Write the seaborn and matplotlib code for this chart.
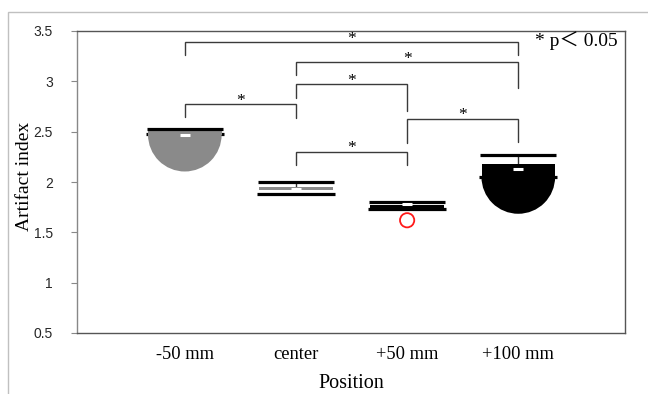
import numpy as np
import pandas as pd
import seaborn as sns
import matplotlib
matplotlib.use("Agg")
import matplotlib.pyplot as plt
from matplotlib.markers import MarkerStyle
from matplotlib.patches import Rectangle

# ---------------- data ----------------
categories = ["-50 mm", "center", "+50 mm", "+100 mm"]
upper = [2.53, 2.00, 1.80, 2.265]        # upper whisker line
box_top = [2.51, 1.95, 1.77, 2.18]       # box top
box_bottom = [2.47, 1.92, 1.73, 2.05]    # box bottom
median = [2.468, 1.935, 1.778, 2.125]    # white marker
lower = [2.475, 1.88, 1.73, 2.05]        # lower line
box_colors = ["#8a8a8a", "#8a8a8a", "#000000", "#000000"]
semi_cat = ["-50 mm", "+100 mm"]
semi_val = [2.47, 2.05]
semi_colors = ["#8a8a8a", "#000000"]
outlier_cat = ["+50 mm"]
outlier_val = [1.62]

bracket_left = [0, 1, 1, 0, 2, 1]
bracket_right = [3, 3, 2, 1, 3, 2]
bracket_top = [3.39, 3.19, 2.97, 2.77, 2.63, 2.30]
bracket_left_end = [3.26, 3.06, 2.83, 2.65, 2.39, 2.17]
bracket_right_end = [3.26, 2.93, 2.71, 2.64, 2.40, 2.17]

yticks = [0.5, 1, 1.5, 2, 2.5, 3, 3.5]
ytick_labels = ["0.5", "1", "1.5", "2", "2.5", "3", "3.5"]

# ---------------- figure ----------------
sns.set_theme(style="white")
fig = plt.figure(figsize=(6.48, 3.94), dpi=100)
ax = fig.add_axes([77 / 648, 1 - 333 / 394, 548 / 648, 302 / 394])

x = np.arange(len(categories))
pos = {c: i for i, c in enumerate(categories)}
w = 0.68

# lower lines (behind)
ax.hlines(lower, x - w / 2 - 0.01, x + w / 2 + 0.01, color="black", lw=2.3, zorder=2)

# semicircles
semi_df = pd.DataFrame({"pos": [pos[c] for c in semi_cat], "v": semi_val, "c": semi_colors})
half = MarkerStyle("o", fillstyle="bottom")
sns.scatterplot(data=semi_df, x="pos", y="v", hue="c", palette=dict(zip(semi_colors, semi_colors)),
                marker=half, s=53 ** 2, linewidth=0, legend=False, ax=ax, zorder=3)

# boxes
ax.bar(x, np.array(box_top) - np.array(box_bottom), bottom=box_bottom, width=w - 0.02,
       color=box_colors, linewidth=0, zorder=3)

# whiskers
ax.vlines(x, box_top, upper, color="#333333", lw=1, zorder=2.5)

# upper lines
ax.hlines(upper, x - w / 2, x + w / 2, color="black", lw=2.3, zorder=4)

# medians
ax.hlines(median, x - 0.045, x + 0.045, color="white", lw=2.2, zorder=5)

# outlier
out_df = pd.DataFrame({"pos": [pos[c] for c in outlier_cat], "v": outlier_val})
sns.scatterplot(data=out_df, x="pos", y="v", marker="o", s=105, facecolor="none",
                edgecolor="#ff1a1a", linewidth=1.3, ax=ax, zorder=6)

# brackets
for l, r, t, le, re in zip(bracket_left, bracket_right, bracket_top, bracket_left_end, bracket_right_end):
    ax.plot([l, l, r, r], [le, t, t, re], color="#3a3a3a", lw=1, zorder=2, solid_joinstyle="miter")
    ax.text((l + r) / 2, t - 0.005, "*", ha="center", va="baseline",
            family="Liberation Serif", fontsize=12.5, color="black")

ax.text(0.987, 3.40, "* p\uff1c 0.05", ha="right", va="center", transform=ax.get_yaxis_transform(),
        family=["Liberation Serif", "Noto Sans CJK JP"], fontsize=14, color="black")

# axes styling
ax.set_xlim(-0.97, 3.96)
ax.set_ylim(0.5, 3.5)
ax.set_xticks(x)
ax.set_xticklabels(categories, family="Liberation Serif", fontsize=13.3, color="black")
ax.set_yticks(yticks)
ax.set_yticklabels(ytick_labels, family="Liberation Sans", fontsize=10, color="#262626")
ax.tick_params(axis="y", left=True, length=4, width=0.8, color="#888888", pad=13.5)
ax.tick_params(axis="x", bottom=False, length=0, pad=9.5)
for s in ax.spines.values():
    s.set_visible(True)
    s.set_color("#555555")
    s.set_linewidth(1)
ax.spines["left"].set_color("#888888")
ax.grid(False)

ax.set_xlabel("Position", family="Liberation Serif", fontsize=14.5, color="black")
ax.xaxis.set_label_coords(0.5, -0.167)
ax.xaxis.label.set_va("center")
ax.set_ylabel("Artifact index", family="Liberation Serif", fontsize=14, color="black")
ax.yaxis.set_label_coords((33 - 77) / 548, (333 - 176) / 302)

fig.add_artist(Rectangle((8 / 648, -0.2), 1.2, 1.2 - 12 / 394, transform=fig.transFigure,
                         fill=False, ec="#c0c0c0", lw=1))

fig.savefig("out.png", dpi=100)
